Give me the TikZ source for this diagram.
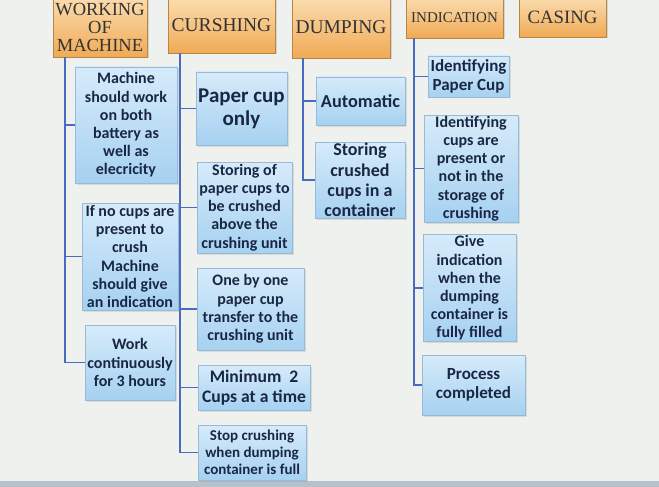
\documentclass[tikz,border=0pt]{standalone}
\usepackage{fontspec}
\setmainfont{Carlito}
\newfontfamily\hdrfont{Liberation Serif}
\usetikzlibrary{shadows}

\definecolor{hdrtop}{HTML}{FBDDB0}
\definecolor{hdrbot}{HTML}{F0AA55}
\definecolor{hdrline}{HTML}{B98545}
\definecolor{leaftop}{HTML}{D6EBFA}
\definecolor{leafbot}{HTML}{A6D1F1}
\definecolor{leafline}{HTML}{98BAD6}
\definecolor{linkblue}{HTML}{4A6CC0}
\definecolor{navy}{HTML}{1A2744}
\definecolor{bgpaper}{HTML}{EFF1EF}
\definecolor{screenedge}{HTML}{B6C1CA}

\tikzset{
  hdr/.style={draw=hdrline, top color=hdrtop, bottom color=hdrbot, align=center, inner sep=1pt,
    text=black!80, font=\hdrfont\fontsize{19.5}{18}\selectfont,
    drop shadow={shadow xshift=1.5pt, shadow yshift=-1.5pt, opacity=0.25}},
  leaf/.style={draw=leafline, top color=leaftop, bottom color=leafbot, align=center, inner sep=1pt,
    text=navy, font=\bfseries\fontsize{16}{18.2}\selectfont,
    drop shadow={shadow xshift=1.5pt, shadow yshift=-1.5pt, opacity=0.2}},
  link/.style={draw=linkblue, line width=1.6pt},
}

\begin{document}
\begin{tikzpicture}[x=1pt, y=-1pt]
\useasboundingbox (0,0) rectangle (659,487);
\fill[bgpaper] (0,0) rectangle (659,487);
\fill[screenedge] (0,481) rectangle (659,487);

% Top level headings
\node[hdr, minimum width=94pt, minimum height=60pt, font=\hdrfont\fontsize{18.5}{18}\selectfont] (work) at (100,27) {WORKING\\OF\\MACHINE};
\node[hdr, minimum width=107pt, minimum height=56pt] (curs) at (221.5,25) {CURSHING};
\node[hdr, minimum width=98pt, minimum height=61pt] (dump) at (341,27.5) {DUMPING};
\node[hdr, minimum width=97pt, minimum height=41pt, font=\hdrfont\fontsize{15}{16}\selectfont] (ind) at (454.5,17.5) {INDICATION};
\node[hdr, minimum width=87pt, minimum height=40pt, font=\hdrfont\fontsize{18.8}{20}\selectfont] (cas) at (562.5,17) {CASING};

% Working of machine
\node[leaf, minimum width=102pt, minimum height=116pt] (w1) at (126,125) {Machine\\should work\\on both\\battery as\\well as\\elecricity};
\node[leaf, minimum width=96pt, minimum height=107pt] (w2) at (130,256.5) {If no cups are\\present to\\crush\\Machine\\should give\\an indication};
\node[leaf, minimum width=90pt, minimum height=75pt] (w3) at (130,362.5) {Work\\continuously\\for 3 hours};

% Cursing
\node[leaf, minimum width=91pt, minimum height=73pt, font=\bfseries\fontsize{21}{23}\selectfont] (c1) at (241.5,108.5) {Paper cup\\only};
\node[leaf, minimum width=95pt, minimum height=91pt] (c2) at (244.5,207.5) {Storing of\\paper cups to\\be crushed\\above the\\crushing unit};
\node[leaf, minimum width=107pt, minimum height=82pt] (c3) at (250.5,309) {One by one\\paper cup\\transfer to the\\crushing unit};
\node[leaf, minimum width=112pt, minimum height=45pt, font=\bfseries\fontsize{17.6}{20}\selectfont] (c4) at (254,387.5) {Minimum\ \ 2\\Cups at a time};
\node[leaf, minimum width=108pt, minimum height=55pt, font=\bfseries\fontsize{15}{17}\selectfont] (c5) at (252,452.5) {Stop crushing\\when dumping\\container is full};

% Dumping
\node[leaf, minimum width=89pt, minimum height=48pt, font=\bfseries\fontsize{18.3}{20}\selectfont] (d1) at (360.5,101) {Automatic};
\node[leaf, minimum width=90pt, minimum height=76pt, font=\bfseries\fontsize{18}{20.3}\selectfont] (d2) at (360,180) {Storing\\crushed\\cups in a\\container};

% Indication
\node[leaf, minimum width=81pt, minimum height=41pt, font=\bfseries\fontsize{17}{18.5}\selectfont] (i1) at (468.5,76.5) {Identifying\\Paper Cup};
\node[leaf, minimum width=94pt, minimum height=107pt] (i2) at (471,168.5) {Identifying\\cups are\\present or\\not in the\\storage of\\crushing};
\node[leaf, minimum width=93pt, minimum height=104pt] (i3) at (469.5,288) {Give\\indication\\when the\\dumping\\container is\\fully filled};
\node[leaf, minimum width=103pt, minimum height=60pt, font=\bfseries\fontsize{17}{19}\selectfont] (i4) at (473.5,385) {Process\\completed};

% Connectors
\foreach \c in {w1,w2,w3}
  \draw[link] ([xshift=12pt]work.south west) |- (\c);
\foreach \c in {c1,c2,c3,c4,c5}
  \draw[link] ([xshift=12pt]curs.south west) |- (\c);
\foreach \c in {d1,d2}
  \draw[link] ([xshift=11pt]dump.south west) |- (\c);
\foreach \c in {i1,i2,i3,i4}
  \draw[link] ([xshift=8pt]ind.south west) |- (\c);

\end{tikzpicture}
\end{document}
